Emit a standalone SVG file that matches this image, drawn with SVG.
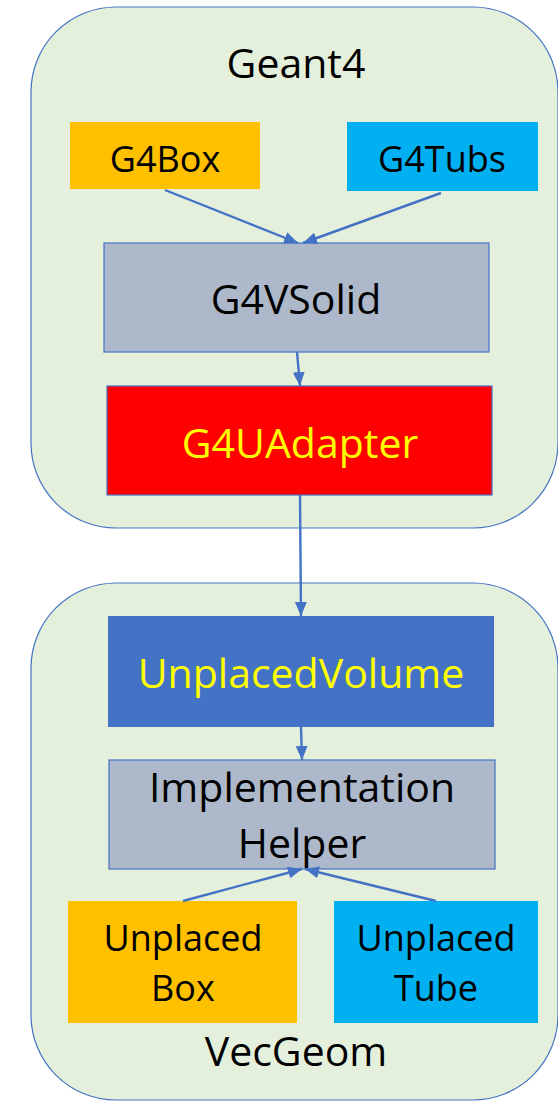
<svg xmlns="http://www.w3.org/2000/svg" width="558" height="1102" viewBox="0 0 558 1102">
<style>
.cont{fill:#E5F0DC;stroke:#4472C4;stroke-width:1.2}
.t{font-family:"Open Sans","Liberation Sans",sans-serif;text-anchor:middle;fill:#000}
.big{font-size:41px}
.sm{font-size:36px}
.y{fill:#FFFF00}
.edge{stroke:#4472C4;stroke-width:2.4;fill:none;marker-end:url(#ah)}
.grey{fill:#ADB9CA;stroke:#4472C4;stroke-width:1.2}
</style>
<defs>
<marker id="ah" viewBox="0 0 14 12" refX="14" refY="6" markerWidth="14" markerHeight="12" markerUnits="userSpaceOnUse" orient="auto">
<path d="M0,0 L14,6 L0,12 Z" fill="#4472C4"/>
</marker>
</defs>
<g id="geant4">
<rect class="cont" x="31" y="7" width="527" height="521" rx="85" ry="85"/>
<text class="t big" x="296" y="78">Geant4</text>
</g>
<g id="vecgeom">
<rect class="cont" x="31" y="583" width="527" height="517" rx="85" ry="85"/>
<text class="t big" x="296" y="1066">VecGeom</text>
</g>
<g id="g4box">
<rect x="70" y="122" width="190" height="67" fill="#FFC000"/>
<text class="t sm" x="165" y="172">G4Box</text>
</g>
<g id="g4tubs">
<rect x="347" y="122" width="191" height="69" fill="#00B0F0"/>
<text class="t sm" x="442" y="172">G4Tubs</text>
</g>
<g id="g4vsolid">
<rect class="grey" x="104" y="243" width="385" height="109"/>
<text class="t big" x="296" y="314">G4VSolid</text>
</g>
<g id="g4uadapter">
<rect x="107" y="386" width="385" height="109" fill="#FF0000" stroke="#4472C4" stroke-width="1.2"/>
<text class="t big y" x="300" y="458">G4UAdapter</text>
</g>
<g id="unplacedvolume">
<rect x="108" y="616" width="386" height="111" fill="#4472C4"/>
<text class="t big y" x="301" y="688">UnplacedVolume</text>
</g>
<g id="implhelper">
<rect class="grey" x="109" y="760" width="386" height="109"/>
<text class="t big" x="302" y="802">Implementation</text>
<text class="t big" x="302" y="858">Helper</text>
</g>
<g id="unplacedbox">
<rect x="68" y="901" width="229" height="122" fill="#FFC000"/>
<text class="t sm" x="183" y="951">Unplaced</text>
<text class="t sm" x="183" y="1001">Box</text>
</g>
<g id="unplacedtube">
<rect x="334" y="901" width="204" height="122" fill="#00B0F0"/>
<text class="t sm" x="436" y="951">Unplaced</text>
<text class="t sm" x="436" y="1001">Tube</text>
</g>
<g id="connectors">
<line class="edge" x1="165" y1="190" x2="298" y2="243"/>
<line class="edge" x1="441" y1="193" x2="303" y2="243"/>
<line class="edge" x1="297" y1="352" x2="300" y2="386"/>
<line class="edge" x1="300" y1="495" x2="301" y2="616"/>
<line class="edge" x1="301" y1="727" x2="302" y2="760"/>
<line class="edge" x1="183" y1="901" x2="302" y2="869"/>
<line class="edge" x1="436" y1="901" x2="305" y2="869"/>
</g>
</svg>
